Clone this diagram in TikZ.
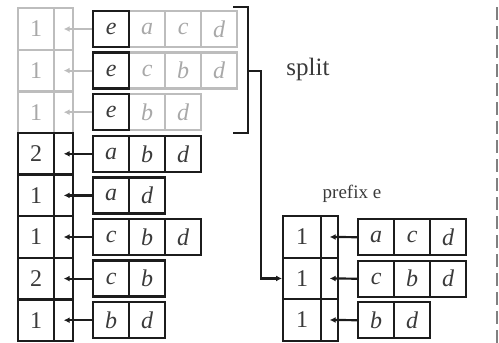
\documentclass[tikz,border=0pt]{standalone}
\usepackage{fontspec}
\setmainfont{Liberation Serif}
\usetikzlibrary{arrows.meta}
\definecolor{inkdark}{HTML}{1C1C1C}
\definecolor{inklight}{HTML}{BDBDBD}
\definecolor{txtlight}{HTML}{A8A8A8}
\definecolor{txtdark}{HTML}{3A3A3A}
\tikzset{
  cellbase/.style={line width=2.4pt, inner sep=0pt, anchor=north west,
    font=\fontsize{24}{24}\selectfont},
  cntcell/.style={cellbase, minimum width=36pt, minimum height=41.6pt},
  ptrcell/.style={cellbase, minimum width=19pt, minimum height=41.6pt},
  pcntcell/.style={cellbase, minimum width=38pt, minimum height=41.5pt},
  pptrcell/.style={cellbase, minimum width=17pt, minimum height=41.5pt},
  itemcell/.style={cellbase, minimum width=36pt, minimum height=36pt,
    font=\fontsize{24}{24}\selectfont\itshape},
  faded/.style={draw=inklight, text=txtlight},
  solid/.style={draw=inkdark, text=txtdark},
  ptrline/.style={line width=2.2pt, -{Latex[length=6pt,width=6pt]}},
}
\begin{document}
\begin{tikzpicture}[x=1pt,y=-1pt]
\useasboundingbox (0,0) rectangle (499,343);

% conditional rows, faded: each starts with the prefix item e
\foreach \i/\items in {1/{a,c,d},2/{c,b,d},3/{b,d}} {
  \pgfmathsetmacro\t{7+(\i-1)*41.6}
  \node[cntcell, faded] (n\i) at (17,\t) {1};
  \node[ptrcell, faded] (p\i) at (53,\t) {};
  \foreach \s [count=\j] in \items {
    \node[itemcell, faded] (i\i-\j) at (92+36*\j,\t+2.8) {\s};
  }
  \node[itemcell, draw=inkdark, text=txtdark] (i\i-0) at (92,\t+2.8) {e};
  \draw[ptrline, inklight] (i\i-0.west) -- (p\i.center);
}

% remaining rows of the database
\foreach \i/\n/\items in {4/2/{a,b,d},5/1/{a,d},6/1/{c,b,d},7/2/{c,b},8/1/{b,d}} {
  \pgfmathsetmacro\t{7+(\i-1)*41.6}
  \node[cntcell, solid] (n\i) at (17,\t) {\n};
  \node[ptrcell, solid] (p\i) at (53,\t) {};
  \foreach \s [count=\j from 0] in \items {
    \node[itemcell, solid] (i\i-\j) at (92+36*\j,\t+2.8) {\s};
  }
  \draw[ptrline, inkdark] (i\i-0.west) -- (p\i.center);
}

% bracket grouping the rows that contain e
\draw[inkdark, line width=2.4pt] (233,7) -- (248,7) -- (248,133) -- (233,133);
\coordinate (brk) at (248,71);
\node[text=txtdark, font=\fontsize{25}{25}\selectfont] (split) at (308,69) {split};

% projected database for prefix e
\node[text=txtdark, font=\fontsize{19}{19}\selectfont] (plabel) at (352,194) {prefix e};
\foreach \i/\items in {1/{a,c,d},2/{c,b,d},3/{b,d}} {
  \pgfmathsetmacro\t{215+(\i-1)*41.5}
  \node[pcntcell, solid] (q\i) at (282,\t) {1};
  \node[pptrcell, solid] (r\i) at (320,\t) {};
  \foreach \s [count=\j from 0] in \items {
    \node[itemcell, solid] (k\i-\j) at (357+36*\j,\t+3) {\s};
  }
  \draw[ptrline, inkdark] (k\i-0.west) -- (r\i.center);
}

\draw[inkdark, line width=2.2pt, -{Latex[length=6pt,width=6pt]}]
  (brk) -- ++(13,0) |- (q2.west);

% separator
\draw[gray, line width=2.5pt, dash pattern=on 13pt off 6pt] (497,7) -- (497,343);
\end{tikzpicture}
\end{document}
